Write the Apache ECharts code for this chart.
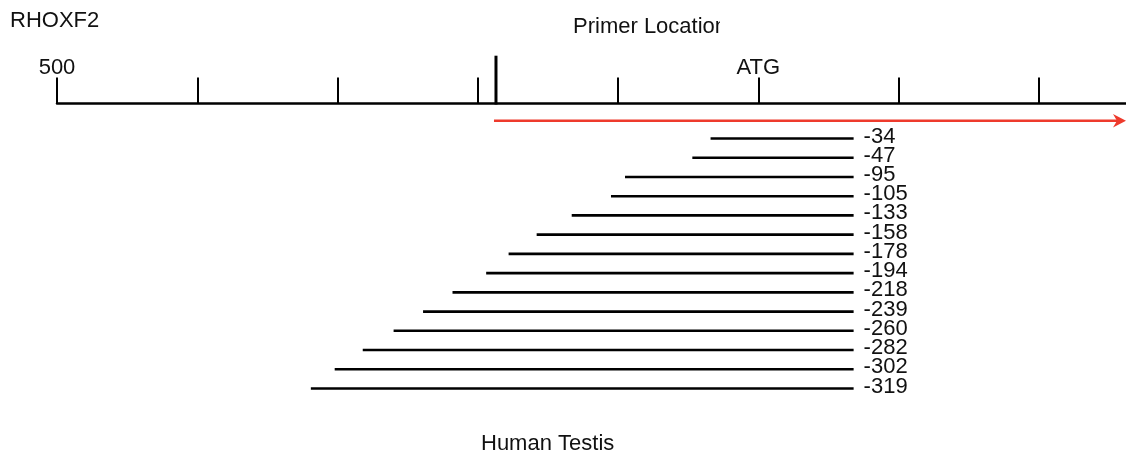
<!DOCTYPE html>
<html>
<head>
<meta charset="utf-8">
<title>RHOXF2 promoter deletion constructs</title>
<script src="https://cdn.jsdelivr.net/npm/echarts@6/dist/echarts.min.js"></script>
<style>
  html, body { margin: 0; padding: 0; background: #ffffff; }
  #chart { width: 1126px; height: 459px; }
</style>
</head>
<body>
<div id="chart"></div>
<script>
// Promoter fragment 5' ends (bp relative to ATG), one construct per row
const fragmentStarts = [-34, -47, -95, -105, -133, -158, -178, -194, -218, -239, -260, -282, -302, -319];
// Common 3' end of every construct (bp relative to ATG)
const fragmentEnd = 68;
// Primer location on the map (bp relative to ATG)
const primerSite = -187;
// Map scale: tick positions and their labels
const axisMin = -500;
const axisMax = 300;
const tickStep = 100;
const tickLabels = { '-500': '500', '0': 'ATG' };

const FONT = '"Liberation Sans", Arial, Helvetica, sans-serif';
const chart = echarts.init(document.getElementById('chart'), null, { renderer: 'canvas' });

const rows = fragmentStarts.map((s, i) => [s, fragmentEnd, i]);

chart.setOption({
  animation: false,
  backgroundColor: '#ffffff',
  grid: {
    left: 57, right: -53, top: 138.5, height: 250,
    containLabel: false,
    outerBoundsMode: 'none'
  },
  xAxis: {
    type: 'value',
    position: 'top',
    offset: 35,
    min: axisMin,
    max: axisMax,
    interval: tickStep,
    axisLine: { show: true, onZero: false, lineStyle: { color: '#000000', width: 2.5 } },
    axisTick: { show: true, inside: false, length: 26, lineStyle: { color: '#000000', width: 2 } },
    axisLabel: {
      show: true,
      margin: 25,
      color: '#111111',
      fontFamily: FONT,
      fontSize: 22,
      formatter: v => tickLabels[String(v)] || ''
    },
    splitLine: { show: false }
  },
  yAxis: {
    type: 'value',
    min: 0,
    max: fragmentStarts.length - 1,
    inverse: true,
    show: false,
    splitLine: { show: false }
  },
  series: [{
    type: 'custom',
    data: rows,
    renderItem: function (params, api) {
      const start = api.value(0);
      const p0 = api.coord([start, api.value(2)]);
      const p1 = api.coord([api.value(1), api.value(2)]);
      return {
        type: 'group',
        children: [
          {
            type: 'line',
            shape: { x1: p0[0], y1: p0[1], x2: p1[0], y2: p1[1] },
            style: { stroke: '#000000', lineWidth: 2.6 }
          },
          {
            type: 'text',
            x: p1[0] + 10,
            y: p1[1] - 2,
            style: {
              text: String(start),
              fill: '#111111',
              font: '22px ' + FONT,
              align: 'left',
              verticalAlign: 'middle'
            }
          }
        ]
      };
    }
  }]
});

// Primer marker and transcription arrow, placed through the x scale
const primerX = chart.convertToPixel({ xAxisIndex: 0 }, primerSite);
const axisY = 103.5;
const arrowY = 120.7;
const red = '#ee3a2c';

chart.setOption({
  graphic: [
    {
      type: 'text', left: 10, top: 10,
      style: { text: 'RHOXF2', fill: '#111111', font: '22px ' + FONT }
    },
    {
      type: 'text', x: 573, y: 27,
      style: { text: 'Primer Location', fill: '#111111', font: '22px ' + FONT, verticalAlign: 'middle' },
      z: 10
    },
    {
      // heading runs into the edge of its frame; hide its tail
      type: 'rect', shape: { x: 720, y: 8, width: 60, height: 38 },
      style: { fill: '#ffffff' }, z: 11
    },
    {
      type: 'line',
      shape: { x1: primerX, y1: 55.7, x2: primerX, y2: axisY + 1 },
      style: { stroke: '#000000', lineWidth: 3 }, z: 10
    },
    {
      type: 'line',
      shape: { x1: primerX - 2, y1: arrowY, x2: 1118, y2: arrowY },
      style: { stroke: red, lineWidth: 2.4 }, z: 10
    },
    {
      type: 'polygon',
      shape: { points: [[1113, 114], [1126, arrowY], [1113, 127.5], [1117, arrowY]] },
      style: { fill: red }, z: 10
    },
    {
      type: 'text', x: 481, y: 444,
      style: { text: 'Human Testis', fill: '#111111', font: '22px ' + FONT, verticalAlign: 'middle' }
    }
  ]
});
</script>
</body>
</html>
